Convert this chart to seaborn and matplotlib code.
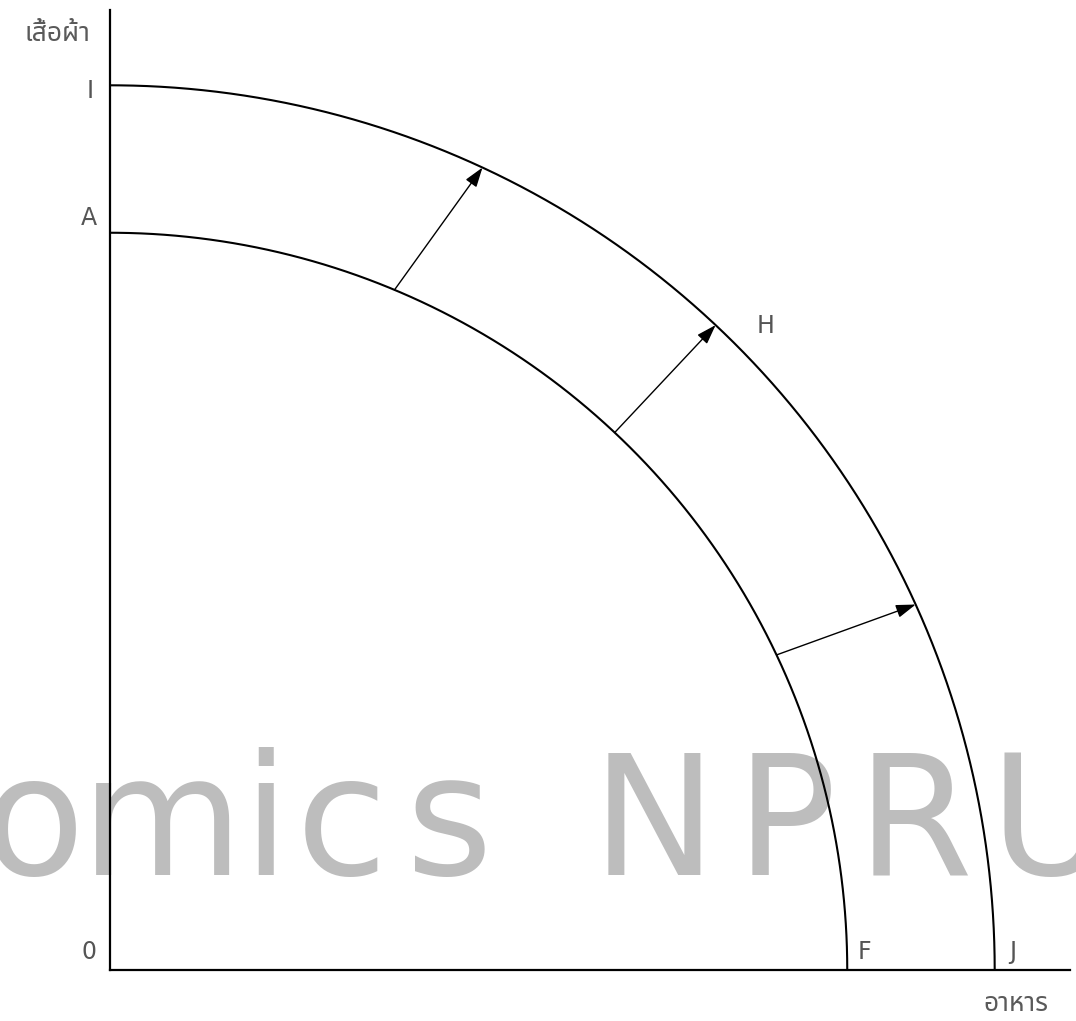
import numpy as np
import pandas as pd
import matplotlib
matplotlib.use("Agg")
import matplotlib.pyplot as plt
from matplotlib import font_manager
from matplotlib.ft2font import FT2Font
import seaborn as sns

# PPF shift: food (x) vs clothes (y)
curve_names = ["AF", "IJ"]
curve_radius = [5.0, 6.0]            # intercepts of old and new frontier
arrow_start_deg = [67.3, 46.8, 25.3]  # where arrows leave the old frontier
arrow_end_deg = [65.1, 46.8, 24.4]    # where they hit the new one
x_label = "อาหาร"
y_label = "เสื้อผ้า"
watermark = "omics NPRU"

sns.set_theme(style="white")


def thai_family():
    # find an installed family that actually has Thai glyphs
    seen = {}
    for f in font_manager.fontManager.ttflist:
        if f.name in seen:
            continue
        try:
            cm = FT2Font(f.fname).get_charmap()
        except Exception:
            continue
        seen[f.name] = 0x0E2D in cm and 0x0E32 in cm
    pref = ["Noto Sans Thai", "Noto Sans Thai UI", "Noto Sans Thai Looped", "Loma",
            "Garuda", "Tlwg Typo", "Norasi", "Sawasdee"]
    for p in pref:
        if seen.get(p):
            return p
    for k, v in seen.items():
        if v:
            return k
    return "DejaVu Sans"


tfam = thai_family()
plt.rcParams["font.family"] = ["DejaVu Sans", tfam]

W, H = 1076, 1021
UNIT = 147.45          # pixels per data unit
X0, Y0 = 110, 970      # origin in pixels

fig = plt.figure(figsize=(W / 100, H / 100), dpi=100)
ax = fig.add_axes([X0 / W, (H - Y0) / H, 960 / W, 960 / H])
ax.set_xlim(0, 960 / UNIT)
ax.set_ylim(0, 960 / UNIT)


def px(x, y):
    return (x - X0) / UNIT, (Y0 - y) / UNIT


theta = np.radians(np.linspace(0, 90, 300))
rows = []
for name, r in zip(curve_names, curve_radius):
    for t in theta:
        rows.append({"curve": name, "x": r * np.cos(t), "y": r * np.sin(t)})
df = pd.DataFrame(rows)

sns.lineplot(data=df, x="x", y="y", units="curve", estimator=None, sort=False,
             color="black", linewidth=1.5, ax=ax, zorder=2)

r0, r1 = curve_radius
for a0, a1 in zip(arrow_start_deg, arrow_end_deg):
    s = (r0 * np.cos(np.radians(a0)), r0 * np.sin(np.radians(a0)))
    e = (r1 * np.cos(np.radians(a1)), r1 * np.sin(np.radians(a1)))
    ax.annotate("", xy=e, xytext=s,
                arrowprops=dict(arrowstyle="-|>,head_length=0.6,head_width=0.2",
                                color="black", lw=1.0, mutation_scale=20,
                                shrinkA=0, shrinkB=0), zorder=3)

# watermark, set letter by letter to get its wide spacing
wm_kw = dict(fontsize=120, color="#bdbdbd", family=["DejaVu Sans"],
             va="baseline", ha="center", zorder=0.5, clip_on=False)
wm_centres = [34, 162, 265, 342, 449, None, 654, 786, 915, 1050]
for ch, cx in zip(watermark, wm_centres):
    if cx is None:
        continue
    ax.text(*px(cx, 875), ch, **wm_kw)

lab_kw = dict(fontsize=17, color="#555555", ha="center", va="center",
              family=["DejaVu Sans"])
ax.text(*px(90, 91), "I", **lab_kw)
ax.text(*px(89, 218), "A", **lab_kw)
ax.text(*px(89, 952), "0", **lab_kw)
ax.text(*px(864, 952), "F", **lab_kw)
ax.text(*px(1013, 952), "J", **lab_kw)
ax.text(*px(766, 326), "H", **lab_kw)

thai_kw = dict(fontsize=19, color="#5a5a5a", ha="center", va="center",
               family=[tfam, "DejaVu Sans"])
ax.text(*px(57, 34), y_label, **thai_kw)
ax.text(*px(1016, 1004), x_label, **thai_kw)

ax.set_xticks([])
ax.set_yticks([])
ax.set_xlabel("")
ax.set_ylabel("")
for side in ["top", "right"]:
    ax.spines[side].set_visible(False)
for side in ["left", "bottom"]:
    ax.spines[side].set_color("black")
    ax.spines[side].set_linewidth(1.6)
ax.patch.set_alpha(0)

fig.savefig("out.png", dpi=100, facecolor="white")
